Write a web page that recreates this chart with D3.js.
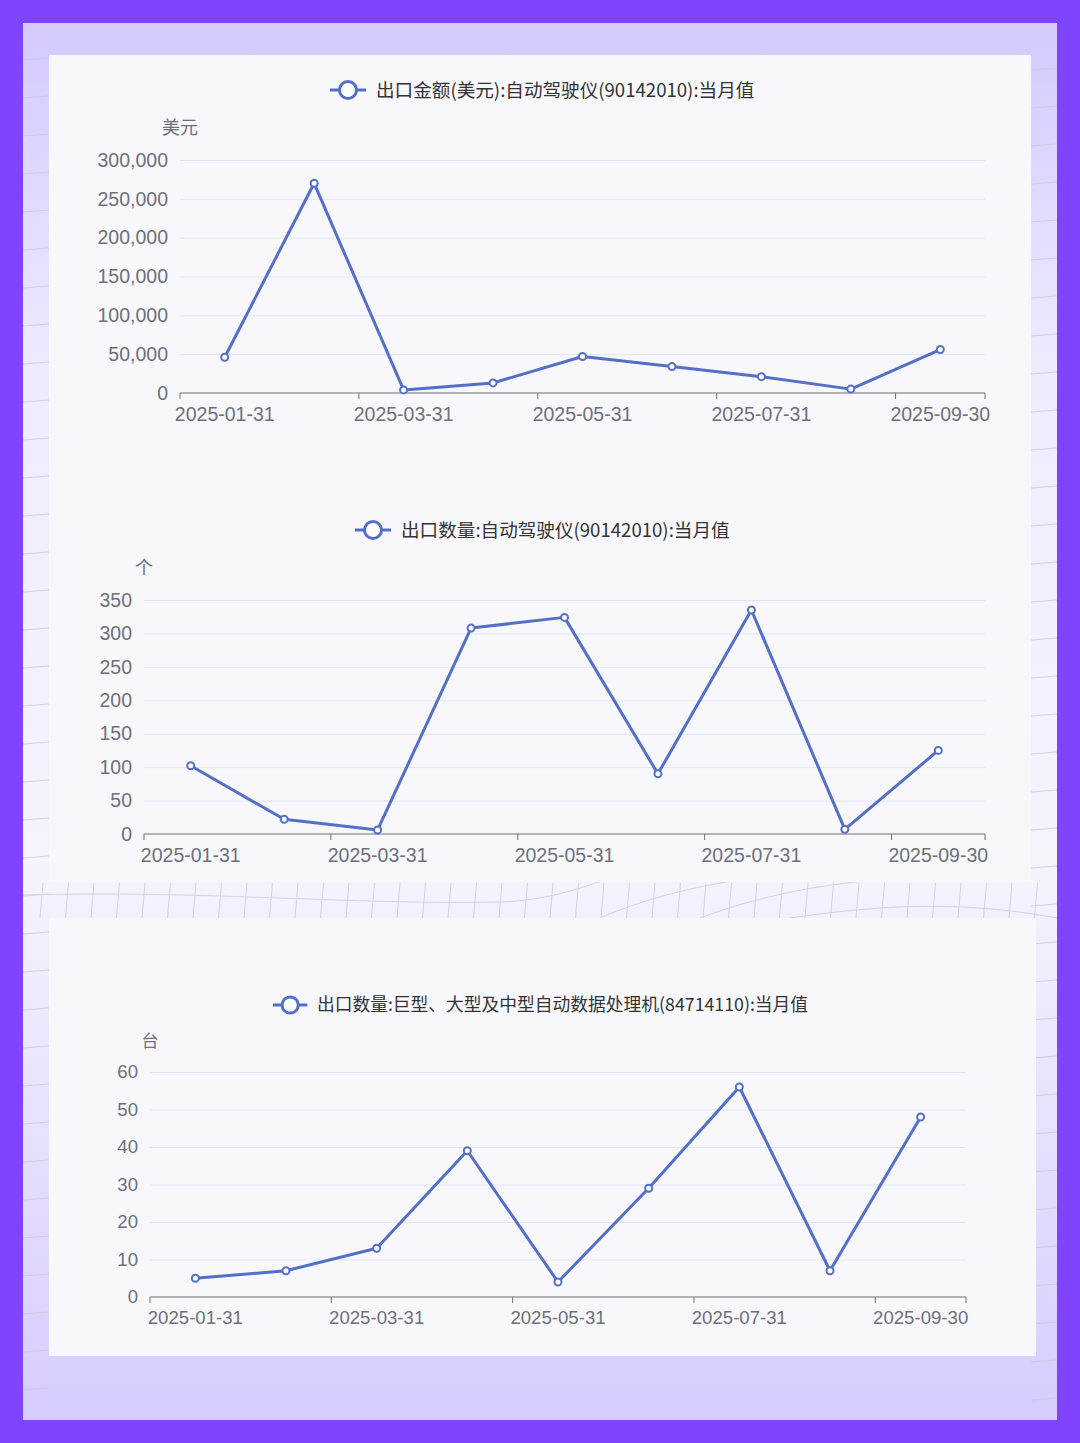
<!DOCTYPE html>
<html lang="zh">
<head>
<meta charset="UTF-8">
<title>出口数据 – 当月值</title>
<script src="https://d3js.org/d3.v7.min.js"></script>
<style>
  body { margin: 0; background: #7f45fe; }
  svg { display: block; }
  .tick text { font-family: "Liberation Sans", Arial, sans-serif; fill: #6e7079; }
  .legend text { font-family: "Noto Sans CJK SC", sans-serif; fill: #333; }
  .axis-name { font-family: "Noto Sans CJK SC", sans-serif; fill: #6e7079; }
</style>
</head>
<body>
<svg width="1080" height="1443"></svg>
<script>
  // months shared by all three charts
  const months = ["2025-01-31", "2025-02-28", "2025-03-31", "2025-04-30", "2025-05-31",
                  "2025-06-30", "2025-07-31", "2025-08-31", "2025-09-30"];

  // 出口金额(美元):自动驾驶仪
  const amountUSD = [46000, 270000, 4000, 13000, 47000, 34000, 21000, 5000, 56000];
  // 出口数量:自动驾驶仪 (个)
  const qtyAutopilot = [102, 22, 6, 308, 324, 90, 335, 7, 125];
  // 出口数量:大中型数据处理机 (台)
  const qtyComputer = [5, 7, 13, 39, 4, 29, 56, 7, 48];

  const yTicks1 = [0, 50000, 100000, 150000, 200000, 250000, 300000];
  const yTicks2 = [0, 50, 100, 150, 200, 250, 300, 350];
  const yTicks3 = [0, 10, 20, 30, 40, 50, 60];

  const svg = d3.select("svg");
  const lineColor = "#5470c6";

  // background: purple frame, lavender inner area
  const defs = svg.append("defs");
  const grad = defs.append("linearGradient").attr("id", "bg").attr("x1", 0).attr("y1", 0).attr("x2", 0).attr("y2", 1);
  grad.append("stop").attr("offset", "0%").attr("stop-color", "#d3c9ff");
  grad.append("stop").attr("offset", "25%").attr("stop-color", "#eeebfd");
  grad.append("stop").attr("offset", "60%").attr("stop-color", "#f5f4fb");
  grad.append("stop").attr("offset", "100%").attr("stop-color", "#d6ccfe");

  svg.append("rect").attr("width", 1080).attr("height", 1443).attr("fill", "#7f45fe");
  svg.append("rect").attr("x", 23).attr("y", 23).attr("width", 1034).attr("height", 1397).attr("fill", "url(#bg)");

  // faint decorative grid lines behind the panels
  const deco = svg.append("g").attr("stroke", "#c9c6d6").attr("fill", "none").attr("stroke-width", 1).attr("opacity", 0.7);
  d3.range(0, 40).forEach(i => {
    const x = 40 + i * 25.5;
    deco.append("line").attr("x1", x + 3).attr("y1", 883).attr("x2", x).attr("y2", 918);
  });
  deco.append("path").attr("d", "M23,895 C200,890 350,905 500,902 C560,900 600,880 620,875");
  deco.append("path").attr("d", "M600,918 C640,900 700,885 740,880");
  deco.append("path").attr("d", "M700,918 C760,895 830,883 880,880");
  deco.append("path").attr("d", "M790,918 C880,905 960,900 1057,918");
  d3.range(0, 36).forEach(i => {
    const y = 60 + i * 38;
    deco.append("line").attr("x1", 23).attr("y1", y).attr("x2", 49).attr("y2", y - 2);
    deco.append("line").attr("x1", 1031).attr("y1", y + 10).attr("x2", 1057).attr("y2", y + 8);
  });

  // panels
  svg.append("rect").attr("x", 49).attr("y", 55).attr("width", 982).attr("height", 827).attr("fill", "#f8f8fc");
  svg.append("rect").attr("x", 49).attr("y", 918).attr("width", 987).attr("height", 438).attr("fill", "#f8f8fc");

  function drawChart(opt) {
    const k = opt.scale || 1;
    const g = svg.append("g");
    const x = d3.scaleBand().domain(months).range([opt.left, opt.right]).padding(0);
    const y = d3.scaleLinear().domain([0, d3.max(opt.ticks)]).range([opt.bottom, opt.top]);

    // legend
    const legend = g.append("g").attr("class", "legend");
    legend.append("line").attr("x1", opt.legendX).attr("x2", opt.legendX + 36 * k)
      .attr("y1", opt.legendY).attr("y2", opt.legendY)
      .attr("stroke", lineColor).attr("stroke-width", 3);
    legend.append("circle").attr("cx", opt.legendX + 18 * k).attr("cy", opt.legendY).attr("r", 8.5 * k)
      .attr("fill", "#fff").attr("stroke", lineColor).attr("stroke-width", 3);
    legend.append("text").attr("x", opt.legendX + 46 * k).attr("y", opt.legendY).attr("dy", "0.35em")
      .attr("font-size", 18.6 * k).text(opt.title);

    // axis name
    g.append("text").attr("class", "axis-name").attr("x", opt.left).attr("y", opt.top - 32 * k)
      .attr("dy", "0.35em").attr("text-anchor", "middle").attr("font-size", 18 * k).text(opt.unit);

    // y axis with split lines
    const yAxis = g.append("g").attr("transform", `translate(${opt.left},0)`)
      .call(d3.axisLeft(y).tickValues(opt.ticks).tickFormat(d3.format(",")).tickSize(-(opt.right - opt.left)).tickPadding(12));
    yAxis.select(".domain").remove();
    yAxis.selectAll(".tick line").attr("stroke", "#e0e6f1");
    yAxis.selectAll(".tick text").attr("font-size", 19.5 * k);
    yAxis.selectAll(".tick").filter(d => d === 0).select("line").remove();

    // x axis: labels on every other month, ticks at band boundaries
    const shown = months.filter((d, i) => i % 2 === 0);
    const xAxis = g.append("g").attr("transform", `translate(0,${opt.bottom})`)
      .call(d3.axisBottom(x).tickValues(shown).tickSize(0).tickPadding(14 * k));
    xAxis.select(".domain").attr("stroke", "#6e7079").attr("d", `M${opt.left},0H${opt.right}`);
    xAxis.selectAll(".tick text").attr("font-size", 19.5 * k);
    const tickPos = shown.map(d => x(d)).concat([opt.right]);
    xAxis.selectAll("line.boundary").data(tickPos).join("line").attr("class", "boundary")
      .attr("x1", d => d).attr("x2", d => d).attr("y1", 0).attr("y2", 6)
      .attr("stroke", "#6e7079");

    // series
    const cx = d => x(d) + x.bandwidth() / 2;
    const pts = months.map((m, i) => [cx(m), y(opt.values[i])]);
    g.append("path").attr("d", d3.line()(pts)).attr("fill", "none")
      .attr("stroke", lineColor).attr("stroke-width", 3).attr("stroke-linejoin", "round");
    g.selectAll("circle.pt").data(pts).join("circle").attr("class", "pt")
      .attr("cx", d => d[0]).attr("cy", d => d[1]).attr("r", 3.5)
      .attr("fill", "#fff").attr("stroke", lineColor).attr("stroke-width", 2);
  }

  drawChart({
    title: "出口金额(美元):自动驾驶仪(90142010):当月值", unit: "美元",
    values: amountUSD, ticks: yTicks1,
    left: 180, right: 985, top: 160, bottom: 393, legendX: 330, legendY: 90
  });
  drawChart({
    title: "出口数量:自动驾驶仪(90142010):当月值", unit: "个",
    values: qtyAutopilot, ticks: yTicks2,
    left: 144, right: 985, top: 600, bottom: 834, legendX: 355, legendY: 530
  });
  drawChart({
    title: "出口数量:巨型、大型及中型自动数据处理机(84714110):当月值", unit: "台",
    values: qtyComputer, ticks: yTicks3, scale: 0.955,
    left: 150, right: 966, top: 1072, bottom: 1297, legendX: 273, legendY: 1005
  });
</script>
</body>
</html>
